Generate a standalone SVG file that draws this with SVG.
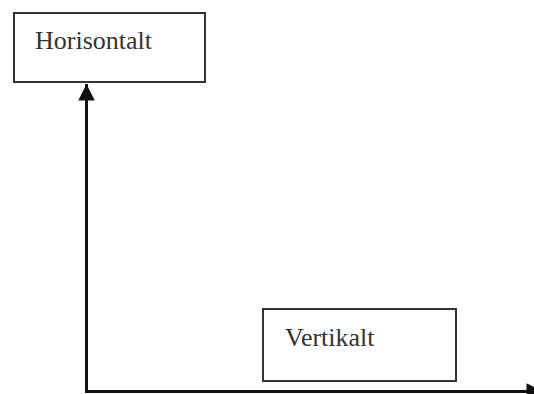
<svg xmlns="http://www.w3.org/2000/svg" width="534" height="394" viewBox="0 0 534 394">
<style>
.box{fill:#fff;stroke:#333;stroke-width:2}
.lbl{font-family:"Liberation Serif","Times New Roman",serif;font-size:26px;fill:#333}
.conn{stroke:#111;stroke-width:3;fill:none}
</style>
<defs>
<marker id="ah" viewBox="0 0 10 10" refX="10" refY="5" markerWidth="6" markerHeight="5.5" markerUnits="strokeWidth" orient="auto">
<path d="M0,0 L10,5 L0,10 z" fill="#111"/>
</marker>
</defs>
<rect width="534" height="394" fill="#fff"/>
<g id="horisontalt">
<rect class="box" x="14" y="13" width="191" height="69"/>
<text class="lbl" x="35" y="49">Horisontalt</text>
</g>
<g id="vertikalt">
<rect class="box" x="263" y="309" width="193" height="72"/>
<text class="lbl" x="285" y="346">Vertikalt</text>
</g>
<g id="connectors">
<path class="conn" d="M86.5,392 L86.5,84" marker-end="url(#ah)"/>
<path class="conn" d="M85,391.5 L543,391.5" marker-end="url(#ah)"/>
</g>
</svg>
